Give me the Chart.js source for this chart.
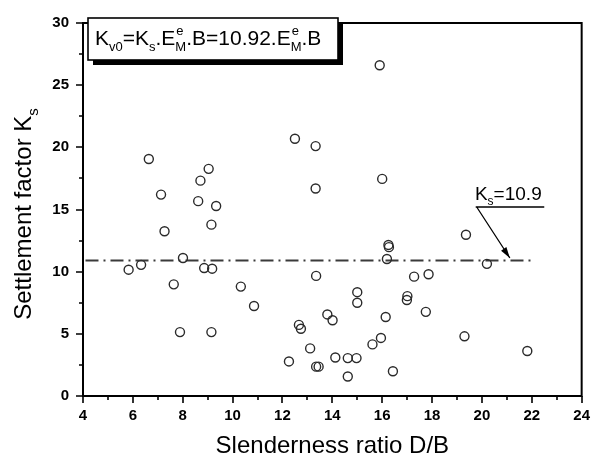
<!DOCTYPE html>
<html>
<head>
<meta charset="utf-8">
<script src="https://cdn.jsdelivr.net/npm/chart.js@4.4.1/dist/chart.umd.min.js"></script>
<style>
  html, body { margin: 0; padding: 0; background: #fff; }
</style>
</head>
<body>
<canvas id="chart" width="601" height="464"></canvas>
<script>
// Pile data: slenderness ratio D/B and settlement factor Ks
const slenderness = [
  5.83, 6.33, 6.64, 7.13, 7.27, 7.64, 7.89, 8.01, 8.62, 8.71, 8.86, 9.04, 9.15, 9.15, 9.18, 9.34,
  10.33, 10.86, 12.26, 12.5, 12.66, 12.74, 13.11, 13.33, 13.33, 13.35, 13.35, 13.45, 13.8, 14.01,
  14.12, 14.62, 14.62, 14.97, 15.0, 15.0, 15.61, 15.9, 15.95, 16.0, 16.14, 16.19, 16.25, 16.27,
  16.43, 16.99, 17.01, 17.28, 17.75, 17.86, 19.3, 19.36, 20.2, 21.82
];
const settlement = [
  10.16, 10.55, 19.06, 16.2, 13.25, 8.98, 5.14, 11.1, 15.67, 17.32, 10.29, 18.27, 13.78, 5.14, 10.24, 15.28,
  8.8, 7.24, 2.78, 20.69, 5.72, 5.41, 3.83, 20.1, 16.69, 9.66, 2.36, 2.36, 6.56, 6.09,
  3.1, 3.05, 1.57, 3.05, 8.35, 7.5, 4.15, 26.6, 4.67, 17.46, 6.35, 11.02, 12.15, 11.97,
  1.99, 7.72, 8.03, 9.6, 6.77, 9.79, 4.8, 12.97, 10.63, 3.62
];

// mean settlement factor and the span of its reference line
const ksMean = 10.9;
const ksLineX = [4.1, 22.0];

const xTicks = [4, 6, 8, 10, 12, 14, 16, 18, 20, 22, 24];
const yTicks = [0, 5, 10, 15, 20, 25, 30];

const FONT = 'Arial, "Liberation Sans", Helvetica, sans-serif';

// draws text runs with subscripts / superscripts, returns width
function drawRich(ctx, x, y, runs, size, measureOnly) {
  let cx = x;
  const small = Math.round(size * 0.62);
  runs.forEach(r => {
    if (r.sub || r.sup) {
      ctx.font = small + 'px ' + FONT;
      let w = 0;
      if (r.sub) {
        w = ctx.measureText(r.sub).width;
        if (!measureOnly) ctx.fillText(r.sub, cx, y + size * 0.28);
      }
      if (r.sup) {
        w = Math.max(w, ctx.measureText(r.sup).width);
        if (!measureOnly) ctx.fillText(r.sup, cx + 1, y - size * 0.5);
      }
      cx += w;
    } else {
      ctx.font = size + 'px ' + FONT;
      if (!measureOnly) ctx.fillText(r.t, cx, y);
      cx += ctx.measureText(r.t).width;
    }
  });
  return cx - x;
}

const eqRuns = [
  {t: 'K'}, {sub: 'v0'}, {t: '=K'}, {sub: 's'}, {t: '.E'}, {sub: 'M', sup: 'e'},
  {t: '.B=10.92.E'}, {sub: 'M', sup: 'e'}, {t: '.B'}
];
const ksRuns = [{t: 'K'}, {sub: 's'}, {t: '=' + ksMean}];
const yTitleRuns = [{t: 'Settlement factor K'}, {sub: 's'}];

const decor = {
  id: 'decor',
  afterDraw(chart) {
    const {ctx, chartArea: a, scales: {x, y}} = chart;
    ctx.save();
    ctx.fillStyle = '#000';
    ctx.strokeStyle = '#000';
    ctx.textBaseline = 'alphabetic';
    ctx.textAlign = 'left';

    // tick marks, major and minor, outside the frame
    ctx.lineWidth = 1.6;
    ctx.beginPath();
    for (let v = xTicks[0]; v <= xTicks[xTicks.length - 1]; v += 1) {
      const px = Math.round(x.getPixelForValue(v));
      const len = xTicks.includes(v) ? 7 : 4;
      ctx.moveTo(px, a.bottom);
      ctx.lineTo(px, a.bottom + len);
    }
    for (let v = yTicks[0]; v <= yTicks[yTicks.length - 1]; v += 2.5) {
      const py = Math.round(y.getPixelForValue(v));
      const len = yTicks.includes(v) ? 7 : 4;
      ctx.moveTo(a.left, py);
      ctx.lineTo(a.left - len, py);
    }
    ctx.stroke();

    // frame
    ctx.lineWidth = 2;
    ctx.strokeRect(a.left, a.top, a.right - a.left, a.bottom - a.top);

    // equation box with drop shadow
    const bx = 88, by = 18, bw = 250, bh = 42;
    ctx.fillRect(bx + 5, by + 5, bw, bh);
    ctx.fillStyle = '#fff';
    ctx.fillRect(bx, by, bw, bh);
    ctx.lineWidth = 1.6;
    ctx.strokeRect(bx, by, bw, bh);
    ctx.fillStyle = '#000';
    drawRich(ctx, bx + 7, by + 27, eqRuns, 21);

    // Ks = 10.9 callout with arrow onto the mean line
    const lx = x.getPixelForValue(19.72), ly = y.getPixelForValue(15.75);
    drawRich(ctx, lx, ly, ksRuns, 19);
    const ux0 = x.getPixelForValue(19.75), ux1 = x.getPixelForValue(22.5);
    const uy = y.getPixelForValue(15.2);
    ctx.lineWidth = 1.3;
    ctx.beginPath();
    ctx.moveTo(ux0, uy);
    ctx.lineTo(ux1, uy);
    const tx = x.getPixelForValue(21.12), ty = y.getPixelForValue(11.1);
    ctx.moveTo(ux0 + 1, uy);
    ctx.lineTo(tx, ty);
    ctx.stroke();
    const ang = Math.atan2(ty - uy, tx - ux0);
    ctx.beginPath();
    ctx.moveTo(tx, ty);
    ctx.lineTo(tx - 11 * Math.cos(ang) + 3.2 * Math.sin(ang), ty - 11 * Math.sin(ang) - 3.2 * Math.cos(ang));
    ctx.lineTo(tx - 11 * Math.cos(ang) - 3.2 * Math.sin(ang), ty - 11 * Math.sin(ang) + 3.2 * Math.cos(ang));
    ctx.closePath();
    ctx.fill();

    // rotated y axis title
    const size = 24;
    const w = drawRich(ctx, 0, 0, yTitleRuns, size, true);
    ctx.translate(31, 214);
    ctx.rotate(-Math.PI / 2);
    drawRich(ctx, -w / 2, 0, yTitleRuns, size);
    ctx.restore();
  }
};

const points = slenderness.map((v, i) => ({x: v, y: settlement[i]}));

new Chart(document.getElementById('chart'), {
  type: 'scatter',
  data: {
    datasets: [
      {
        data: points,
        pointStyle: 'circle',
        pointRadius: 4.5,
        borderWidth: 1.4,
        borderColor: '#2b2b2b',
        backgroundColor: 'rgba(255,255,255,0)'
      },
      {
        type: 'line',
        data: ksLineX.map(v => ({x: v, y: ksMean})),
        borderColor: '#3a3a3a',
        borderWidth: 2,
        borderDash: [13, 5, 2, 5],
        pointRadius: 0,
        fill: false
      }
    ]
  },
  options: {
    responsive: false,
    animation: false,
    devicePixelRatio: 1,
    layout: {padding: {top: 15, right: 16, bottom: 0, left: 0}},
    plugins: {legend: {display: false}, tooltip: {enabled: false}},
    scales: {
      x: {
        type: 'linear',
        min: xTicks[0],
        max: xTicks[xTicks.length - 1],
        afterBuildTicks: s => { s.ticks = xTicks.map(v => ({value: v})); },
        afterFit: s => { s.height = 68; },
        grid: {display: false, drawTicks: false},
        border: {display: false},
        ticks: {padding: 11, color: '#000', font: {family: FONT, size: 15, weight: 'bold'}},
        title: {
          display: true,
          text: 'Slenderness ratio D/B',
          color: '#000',
          font: {family: FONT, size: 24},
          padding: {top: 0, bottom: 3}
        }
      },
      y: {
        type: 'linear',
        min: yTicks[0],
        max: yTicks[yTicks.length - 1],
        afterBuildTicks: s => { s.ticks = yTicks.map(v => ({value: v})); },
        afterFit: s => { s.width = 83; },
        grid: {display: false, drawTicks: false},
        border: {display: false},
        ticks: {padding: 14, color: '#000', font: {family: FONT, size: 15, weight: 'bold'}}
      }
    }
  },
  plugins: [decor]
});
</script>
</body>
</html>
